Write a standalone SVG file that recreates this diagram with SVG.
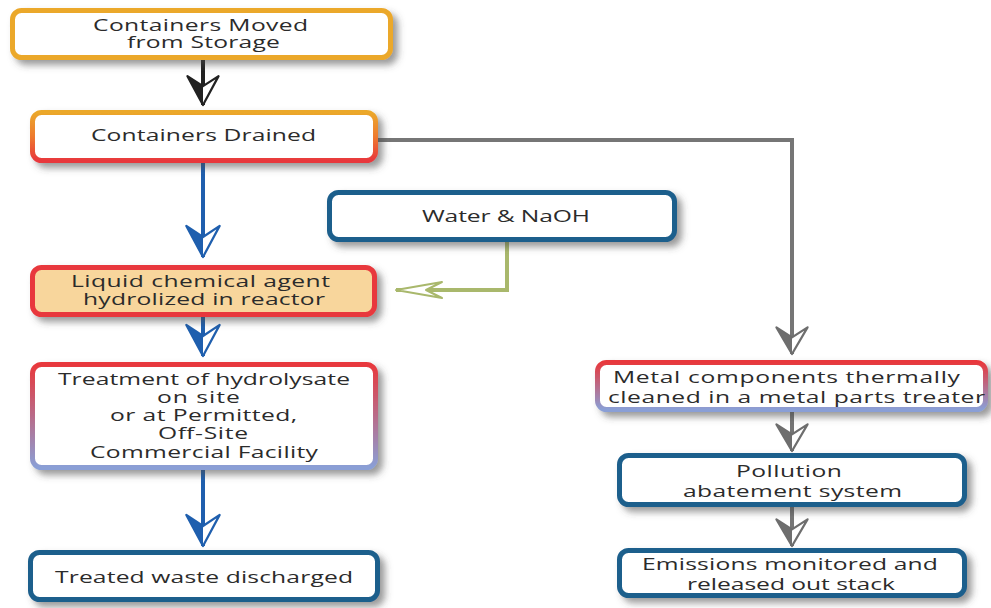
<svg xmlns="http://www.w3.org/2000/svg" width="991" height="608" viewBox="0 0 991 608">
  <style>
    .box { fill: #ffffff; stroke-width: 5; }
    .lbl { font-family: "Open Sans", "Liberation Sans", sans-serif; font-size: 17px; fill: #2b2b2b; }
    .wire { fill: none; stroke-width: 4; stroke-linejoin: miter; }
  </style>
  <defs>
    <filter id="shadow" x="-10%" y="-20%" width="125%" height="160%">
      <feDropShadow dx="5" dy="5" stdDeviation="3.5" flood-color="#4a4a4a" flood-opacity="0.55"/>
    </filter>
    <linearGradient id="gOrangeRed" x1="0" y1="0" x2="0" y2="1">
      <stop offset="0" stop-color="#eba82c"/>
      <stop offset="0.5" stop-color="#ee7a2e"/>
      <stop offset="1" stop-color="#e8383c"/>
    </linearGradient>
    <linearGradient id="gRedBlue" x1="0" y1="0" x2="0" y2="1">
      <stop offset="0" stop-color="#e8383c"/>
      <stop offset="1" stop-color="#8a9fd6"/>
    </linearGradient>
    <marker id="arBlue" markerUnits="userSpaceOnUse" markerWidth="40" markerHeight="40" viewBox="-32 -18 36 36" refX="0" refY="0" orient="auto">
      <path d="M0,0 L-28,-15 L-18,0 L-28,15 Z" fill="#ffffff" stroke="#1f5fae" stroke-width="2" stroke-linejoin="round"/>
      <path d="M0,0 L-28,15 L-18,0 Z" fill="#1f5fae"/>
    </marker>
    <marker id="arBlack" markerUnits="userSpaceOnUse" markerWidth="40" markerHeight="40" viewBox="-32 -18 36 36" refX="0" refY="0" orient="auto">
      <path d="M0,0 L-26,-14 L-17,0 L-26,14 Z" fill="#ffffff" stroke="#222222" stroke-width="2" stroke-linejoin="round"/>
      <path d="M0,0 L-26,14 L-17,0 Z" fill="#222222"/>
    </marker>
    <marker id="arGray" markerUnits="userSpaceOnUse" markerWidth="40" markerHeight="40" viewBox="-32 -18 36 36" refX="0" refY="0" orient="auto">
      <path d="M0,0 L-24,-14 L-15,0 L-24,14 Z" fill="#ffffff" stroke="#6e6e6e" stroke-width="2" stroke-linejoin="round"/>
      <path d="M0,0 L-24,14 L-15,0 Z" fill="#6e6e6e"/>
    </marker>
    <marker id="arGreen" markerUnits="userSpaceOnUse" markerWidth="56" markerHeight="24" viewBox="-52 -11 56 22" refX="0" refY="0" orient="auto">
      <path d="M0,0 L-46,-8 L-30,0 L-46,8 Z" fill="#ffffff" stroke="#a9b86c" stroke-width="2" stroke-linejoin="round"/>
    </marker>
  </defs>

  <!-- connectors -->
  <g id="connectors">
    <path class="wire" stroke="#222222" d="M203,60 V105" marker-end="url(#arBlack)"/>
    <path class="wire" stroke="#1f5fae" d="M203,163 V257" marker-end="url(#arBlue)"/>
    <path class="wire" stroke="#1f5fae" d="M203,317 V356" marker-end="url(#arBlue)"/>
    <path class="wire" stroke="#1f5fae" d="M203,470 V546" marker-end="url(#arBlue)"/>
    <path class="wire" stroke="#767676" d="M378,140 H792 V354" marker-end="url(#arGray)"/>
    <path class="wire" stroke="#767676" d="M792,412 V451" marker-end="url(#arGray)"/>
    <path class="wire" stroke="#767676" d="M792,507 V546" marker-end="url(#arGray)"/>
    <path class="wire" stroke="#a9b86c" stroke-width="3.5" d="M507,242 V290 H396" marker-end="url(#arGreen)"/>
  </g>

  <!-- nodes; labels use a wide horizontal scale -->
  <g id="moved">
    <rect class="box" x="12.5" y="10.5" width="378" height="47" rx="9" stroke="#eba82c" filter="url(#shadow)"/>
    <text class="lbl" transform="translate(93,31) scale(1.45,1)" textLength="148.3" lengthAdjust="spacing">Containers Moved</text>
    <text class="lbl" transform="translate(127,48) scale(1.45,1)" textLength="105.5" lengthAdjust="spacing">from Storage</text>
  </g>

  <g id="drained">
    <rect class="box" x="32.5" y="112.5" width="343" height="48" rx="9" stroke="url(#gOrangeRed)" filter="url(#shadow)"/>
    <text class="lbl" transform="translate(91,141) scale(1.45,1)" textLength="155.2" lengthAdjust="spacing">Containers Drained</text>
  </g>

  <g id="water">
    <rect class="box" x="329.5" y="192.5" width="345" height="47" rx="9" stroke="#1d5f8c" filter="url(#shadow)"/>
    <text class="lbl" transform="translate(422,222) scale(1.45,1)" textLength="115.9" lengthAdjust="spacing">Water &amp; NaOH</text>
  </g>

  <g id="reactor">
    <rect class="box" x="32.5" y="267.5" width="342" height="47" rx="9" stroke="#e8383c" style="fill:#f8d69c" filter="url(#shadow)"/>
    <text class="lbl" transform="translate(71,287) scale(1.45,1)" textLength="178.6" lengthAdjust="spacing">Liquid chemical agent</text>
    <text class="lbl" transform="translate(83,305) scale(1.45,1)" textLength="166.9" lengthAdjust="spacing">hydrolized in reactor</text>
  </g>

  <g id="treatment">
    <rect class="box" x="32.5" y="364.5" width="343" height="103" rx="9" stroke="url(#gRedBlue)" filter="url(#shadow)"/>
    <text class="lbl" transform="translate(58,385) scale(1.45,1)" textLength="201.4" lengthAdjust="spacing">Treatment of hydrolysate</text>
    <text class="lbl" transform="translate(157,403) scale(1.45,1)" textLength="57.2" lengthAdjust="spacing">on site</text>
    <text class="lbl" transform="translate(110,421) scale(1.45,1)" textLength="129" lengthAdjust="spacing">or at Permitted,</text>
    <text class="lbl" transform="translate(158,439) scale(1.45,1)" textLength="62.1" lengthAdjust="spacing">Off-Site</text>
    <text class="lbl" transform="translate(90,458) scale(1.45,1)" textLength="157.2" lengthAdjust="spacing">Commercial Facility</text>
  </g>

  <g id="discharged">
    <rect class="box" x="30.5" y="552.5" width="347" height="47" rx="9" stroke="#1d5f8c" filter="url(#shadow)"/>
    <text class="lbl" transform="translate(55,583) scale(1.45,1)" textLength="205.5" lengthAdjust="spacing">Treated waste discharged</text>
  </g>

  <g id="metal">
    <rect class="box" x="597.5" y="362.5" width="388" height="47" rx="9" stroke="url(#gRedBlue)" filter="url(#shadow)"/>
    <text class="lbl" transform="translate(613,383) scale(1.45,1)" textLength="239.3" lengthAdjust="spacing">Metal components thermally</text>
    <text class="lbl" transform="translate(608,403) scale(1.45,1)" textLength="260" lengthAdjust="spacing">cleaned in a metal parts treater</text>
  </g>

  <g id="pollution">
    <rect class="box" x="619.5" y="455.5" width="345" height="49" rx="9" stroke="#1d5f8c" filter="url(#shadow)"/>
    <text class="lbl" transform="translate(736,477) scale(1.45,1)" textLength="73.1" lengthAdjust="spacing">Pollution</text>
    <text class="lbl" transform="translate(683,497) scale(1.45,1)" textLength="151" lengthAdjust="spacing">abatement system</text>
  </g>

  <g id="emissions">
    <rect class="box" x="619.5" y="550.5" width="345" height="45" rx="9" stroke="#1d5f8c" filter="url(#shadow)"/>
    <text class="lbl" transform="translate(642,570) scale(1.45,1)" textLength="204.1" lengthAdjust="spacing">Emissions monitored and</text>
    <text class="lbl" transform="translate(687,590) scale(1.45,1)" textLength="143.4" lengthAdjust="spacing">released out stack</text>
  </g>
</svg>
